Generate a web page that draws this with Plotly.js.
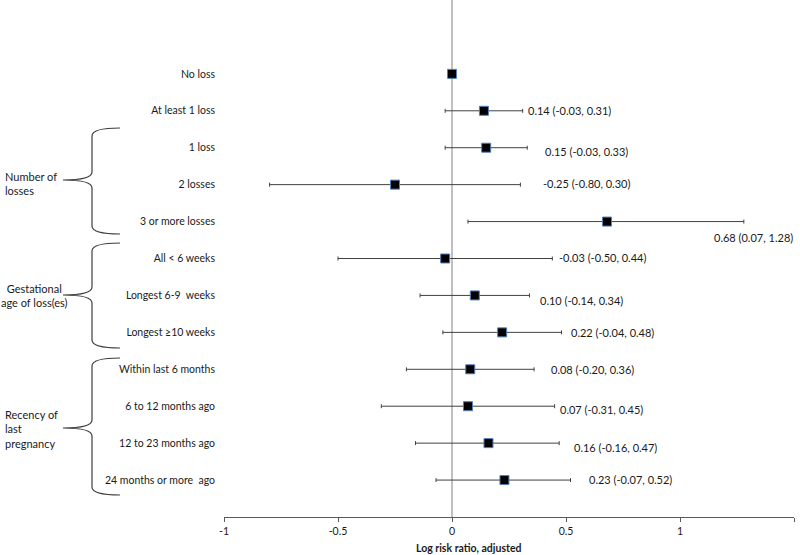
<!DOCTYPE html>
<html>
<head>
<meta charset="utf-8">
<script src="https://cdn.plot.ly/plotly-3.0.1.min.js"></script>
<style>html,body{margin:0;padding:0;background:#fff;}#chart{width:800px;height:555px;}</style>
</head>
<body>
<div id="chart"></div>
<script>
// ---------- data ----------
var categories = ["No loss", "At least 1 loss", "1 loss", "2 losses", "3 or more losses",
  "All < 6 weeks", "Longest 6-9  weeks", "Longest \u226510 weeks",
  "Within last 6 months", "6 to 12 months ago", "12 to 23 months ago", "24 months or more  ago"];
var estimates = [0, 0.14, 0.15, -0.25, 0.68, -0.03, 0.10, 0.22, 0.08, 0.07, 0.16, 0.23];
var ciLower   = [0, -0.03, -0.03, -0.80, 0.07, -0.50, -0.14, -0.04, -0.20, -0.31, -0.16, -0.07];
var ciUpper   = [0, 0.31, 0.33, 0.30, 1.28, 0.44, 0.34, 0.48, 0.36, 0.45, 0.47, 0.52];
var groupNames = ["Number of<br>losses", "Gestational<br>age of loss(es)", "Recency of<br>last<br>pregnancy"];
var xTicks = [-1, -0.5, 0, 0.5, 1, 1.5];
var xTickText = ["-1", "-0.5", "0", "0.5", "1", "1.5"];

// ---------- layout helpers ----------
var W = 800, H = 555, L = 224, R = 6, T = 0, B = 38;
var pw = W - L - R, ph = H - T - B;
function px2paperX(px) { return (px - L) / pw; }
function px2paperY(py) { return (H - B - py) / ph; }
var FONT = "Lato, 'Liberation Sans', sans-serif";

var n = categories.length;
var yPos = categories.map(function (c, i) { return n - i; });
var fmt = function (v) { return v.toFixed(2); };

// label nudges in pixels (relative to CI end), layout only
var labelNudge = [null, [3, 0], [16, -4], [21, 1], [-32, -16], [5, 1], [8, -5], [8, 0], [15, 0], [3, -3], [13, -4], [16, 1]];

var trace = {
  type: "scatter", mode: "markers",
  x: estimates, y: yPos,
  marker: { symbol: "square", size: 9, color: "#000", line: { color: "#4f81bd", width: 1 } },
  error_x: {
    type: "data", symmetric: false,
    array: estimates.map(function (e, i) { return ciUpper[i] - e; }),
    arrayminus: estimates.map(function (e, i) { return e - ciLower[i]; }),
    color: "#404040", thickness: 1, width: 2
  },
  hoverinfo: "skip", showlegend: false
};

var annotations = [];
for (var i = 1; i < n; i++) {
  annotations.push({
    x: ciUpper[i], y: yPos[i], xref: "x", yref: "y",
    text: fmt(estimates[i]) + " (" + fmt(ciLower[i]) + ", " + fmt(ciUpper[i]) + ")",
    showarrow: false, xanchor: "left", yanchor: "middle",
    xshift: labelNudge[i][0], yshift: labelNudge[i][1],
    font: { family: FONT, size: 11, color: "#1a1a1a" }
  });
}
// group labels
var groupLabelPos = [[3, 184, "left"], [34, 295, "center"], [3, 429, "left"]];
groupNames.forEach(function (g, k) {
  annotations.push({
    x: px2paperX(groupLabelPos[k][0]), y: px2paperY(groupLabelPos[k][1]),
    xref: "paper", yref: "paper", text: g, showarrow: false,
    xanchor: groupLabelPos[k][2] === "center" ? "center" : "left", yanchor: "middle",
    align: groupLabelPos[k][2],
    font: { family: FONT, size: 11, color: "#1a1a1a" }
  });
});
// x-axis title
annotations.push({
  x: px2paperX(468), y: px2paperY(548), xref: "paper", yref: "paper",
  text: "<b>Log risk ratio, adjusted</b>", showarrow: false,
  xanchor: "center", yanchor: "middle",
  font: { family: FONT, size: 10.5, color: "#1a1a1a" }
});

// braces
function brace(top, mid, bot) {
  var xe = 120, xs = 92, xt = 63, r = 8;
  function P(x, y) { return px2paperX(x).toFixed(5) + "," + px2paperY(y).toFixed(5); }
  return "M" + P(xe, top) + " Q" + P(xs, top) + " " + P(xs, top + r) +
    " L" + P(xs, mid - r) + " Q" + P(xs, mid) + " " + P(xt, mid) +
    " Q" + P(xs, mid) + " " + P(xs, mid + r) +
    " L" + P(xs, bot - r) + " Q" + P(xs, bot) + " " + P(xe, bot);
}
var braceSpans = [[128, 180, 234], [243, 295, 348], [358, 428, 495]];
var shapes = [
  { type: "line", xref: "x", yref: "paper", x0: 0, x1: 0, y0: 0, y1: 1,
    line: { color: "#c0c0c0", width: 2 }, layer: "below" }
];
braceSpans.forEach(function (s) {
  shapes.push({ type: "path", xref: "paper", yref: "paper", path: brace(s[0], s[1], s[2]),
    line: { color: "#404040", width: 1.2 } });
});

var layout = {
  width: W, height: H,
  margin: { l: L, r: R, t: T, b: B, pad: 0 },
  paper_bgcolor: "#fff", plot_bgcolor: "#fff",
  xaxis: {
    range: [-1, 1.5], tickvals: xTicks, ticktext: xTickText,
    showgrid: false, zeroline: false, showline: true, linecolor: "#595959", linewidth: 1,
    ticks: "outside", ticklen: 4, tickcolor: "#595959",
    tickfont: { family: FONT, size: 10.5, color: "#1a1a1a" }, fixedrange: true
  },
  yaxis: {
    range: [0, 14], tickvals: yPos, ticktext: categories,
    showgrid: false, zeroline: false, showline: false, ticks: "",
    ticklabelstandoff: 8,
    tickfont: { family: FONT, size: 10.5, color: "#1a1a1a" }, fixedrange: true
  },
  annotations: annotations,
  shapes: shapes
};

Plotly.newPlot("chart", [trace], layout, { displayModeBar: false, staticPlot: true });
</script>
</body>
</html>
